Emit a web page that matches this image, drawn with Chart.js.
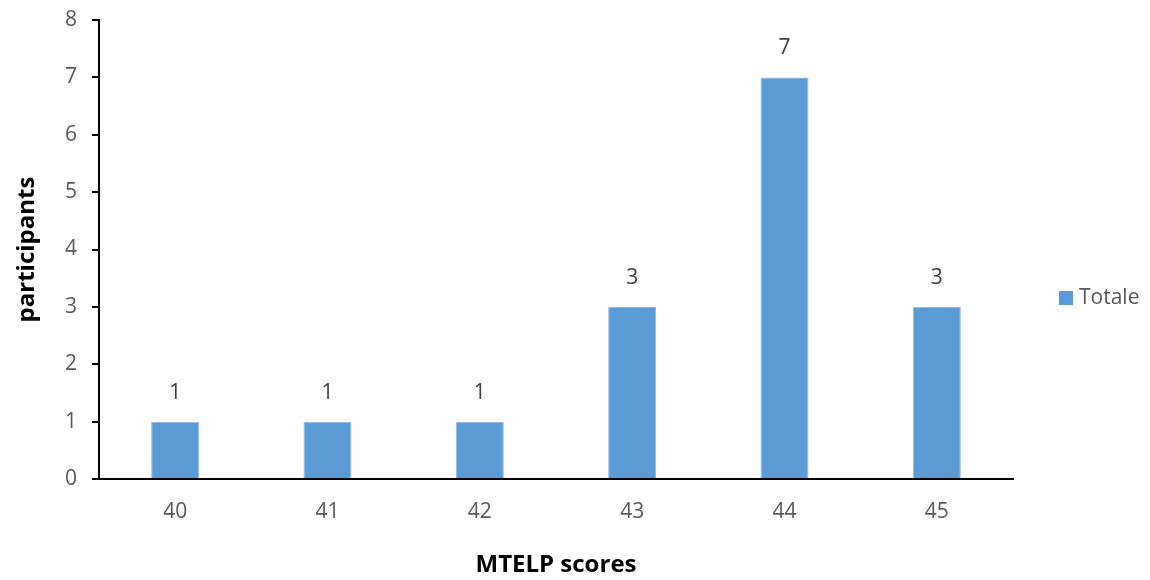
<!DOCTYPE html>
<html>
<head>
<meta charset="utf-8">
<script src="https://cdn.jsdelivr.net/npm/chart.js@4"></script>
<style>
  html, body { margin: 0; padding: 0; background: #fff; }
  #wrap { width: 1150px; height: 580px; position: relative; }
</style>
</head>
<body>
<div id="wrap"><canvas id="scoresChart" width="1150" height="580"></canvas></div>
<script>
const scores = ['40', '41', '42', '43', '44', '45'];
const participants = [1, 1, 1, 3, 7, 3];
const seriesName = 'Totale';
const barColor = '#5b9bd5';
const textGrey = '#595959';
const fontFamily = '"Open Sans", Lato, sans-serif';

// value labels above bars + legend swatch on the right
const barExtras = {
    id: 'barExtras',
    afterDatasetsDraw(chart) {
        const ctx = chart.ctx;
        const meta = chart.getDatasetMeta(0);
        ctx.save();
        ctx.font = '21px ' + fontFamily;
        ctx.fillStyle = '#404040';
        ctx.textAlign = 'center';
        ctx.textBaseline = 'middle';
        meta.data.forEach((bar, i) => {
            ctx.fillText(String(participants[i]), bar.x, bar.y - 29);
        });

        // legend
        const lx = 1059, ly = 298;
        ctx.fillStyle = barColor;
        ctx.fillRect(lx, ly - 7, 14, 14);
        ctx.fillStyle = textGrey;
        ctx.textAlign = 'left';
        ctx.fillText(seriesName, lx + 20, ly);
        ctx.restore();
    }
};

const ctx = document.getElementById('scoresChart').getContext('2d');
new Chart(ctx, {
    type: 'bar',
    data: {
        labels: scores,
        datasets: [{
            label: seriesName,
            data: participants,
            backgroundColor: barColor,
            borderColor: '#8db8e3',
            borderWidth: 1,
            categoryPercentage: 1,
            barPercentage: 0.315
        }]
    },
    options: {
        responsive: false,
        animation: false,
        devicePixelRatio: 1,
        layout: { padding: { top: 0, right: 137, bottom: 0, left: 0 } },
        plugins: {
            legend: { display: false },
            tooltip: { enabled: false }
        },
        scales: {
            x: {
                afterFit: s => { s.height = 101; },
                grid: { display: false, drawTicks: false },
                border: { color: '#000', width: 2 },
                ticks: { color: textGrey, font: { size: 21, family: fontFamily }, padding: 20 },
                title: {
                    display: true,
                    text: 'MTELP scores',
                    color: '#000',
                    font: { size: 24, weight: 'bold', family: fontFamily },
                    padding: { top: 18, bottom: 0 }
                }
            },
            y: {
                min: 0,
                max: 8,
                afterFit: s => { s.width = 99; s.paddingTop = 20; },
                grid: { drawOnChartArea: false, drawTicks: true, tickLength: 7, color: '#000', lineWidth: 2 },
                border: { color: '#000', width: 2 },
                ticks: { stepSize: 1, color: textGrey, font: { size: 21, family: fontFamily }, padding: 15 },
                title: {
                    display: true,
                    text: 'participants',
                    color: '#000',
                    font: { size: 24, weight: 'bold', family: fontFamily },
                    padding: { top: 13, bottom: 0 }
                }
            }
        }
    },
    plugins: [barExtras]
});
</script>
</body>
</html>
